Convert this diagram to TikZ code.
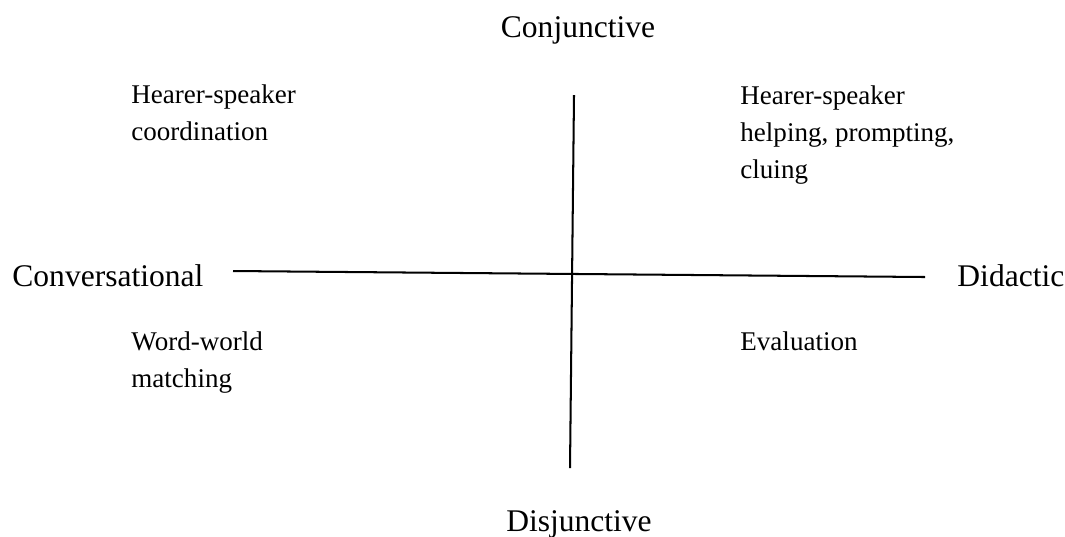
\documentclass[tikz,border=0pt]{standalone}
\usepackage{fontspec}
\setmainfont{Liberation Serif}

\begin{document}
\begin{tikzpicture}[x=0.444pt, y=-0.444pt,
    axislabel/.style={font=\fontsize{14}{17}\selectfont, inner sep=0pt},
    quadlabel/.style={font=\fontsize{12}{16.4}\selectfont, align=left, inner sep=0pt, anchor=base west}]
      \useasboundingbox (0,0) rectangle (1065,536);
%      \draw [help lines] (0,0) grid [step=50] (1065,536);

      % axis ends
      \coordinate (top) at (574,95);
      \coordinate (bottom) at (570,468);
      \coordinate (left) at (233,271);
      \coordinate (right) at (925,277);
      \draw [line width=0.9pt] (top) -- (bottom);
      \draw [line width=0.9pt] (left) -- (right);

      \node [axislabel, anchor=base] (conj) at (578,37) {Conjunctive};
      \node [axislabel, anchor=base] (disj) at (579,531) {Disjunctive};
      \node [axislabel, anchor=base west] (conv) at (12,286) {Conversational};
      \node [axislabel, anchor=base west] (did) at (957,286) {Didactic};

      % base of a multi-line node sits on its last line
      \node [quadlabel] (coord) at (131,140) {Hearer-speaker\\coordination};
      \node [quadlabel] (help) at (740,178) {Hearer-speaker\\helping, prompting,\\cluing};
      \node [quadlabel] (match) at (131,387) {Word-world\\matching};
      \node [quadlabel] (eval) at (740,350) {Evaluation};
\end{tikzpicture}
\end{document}
